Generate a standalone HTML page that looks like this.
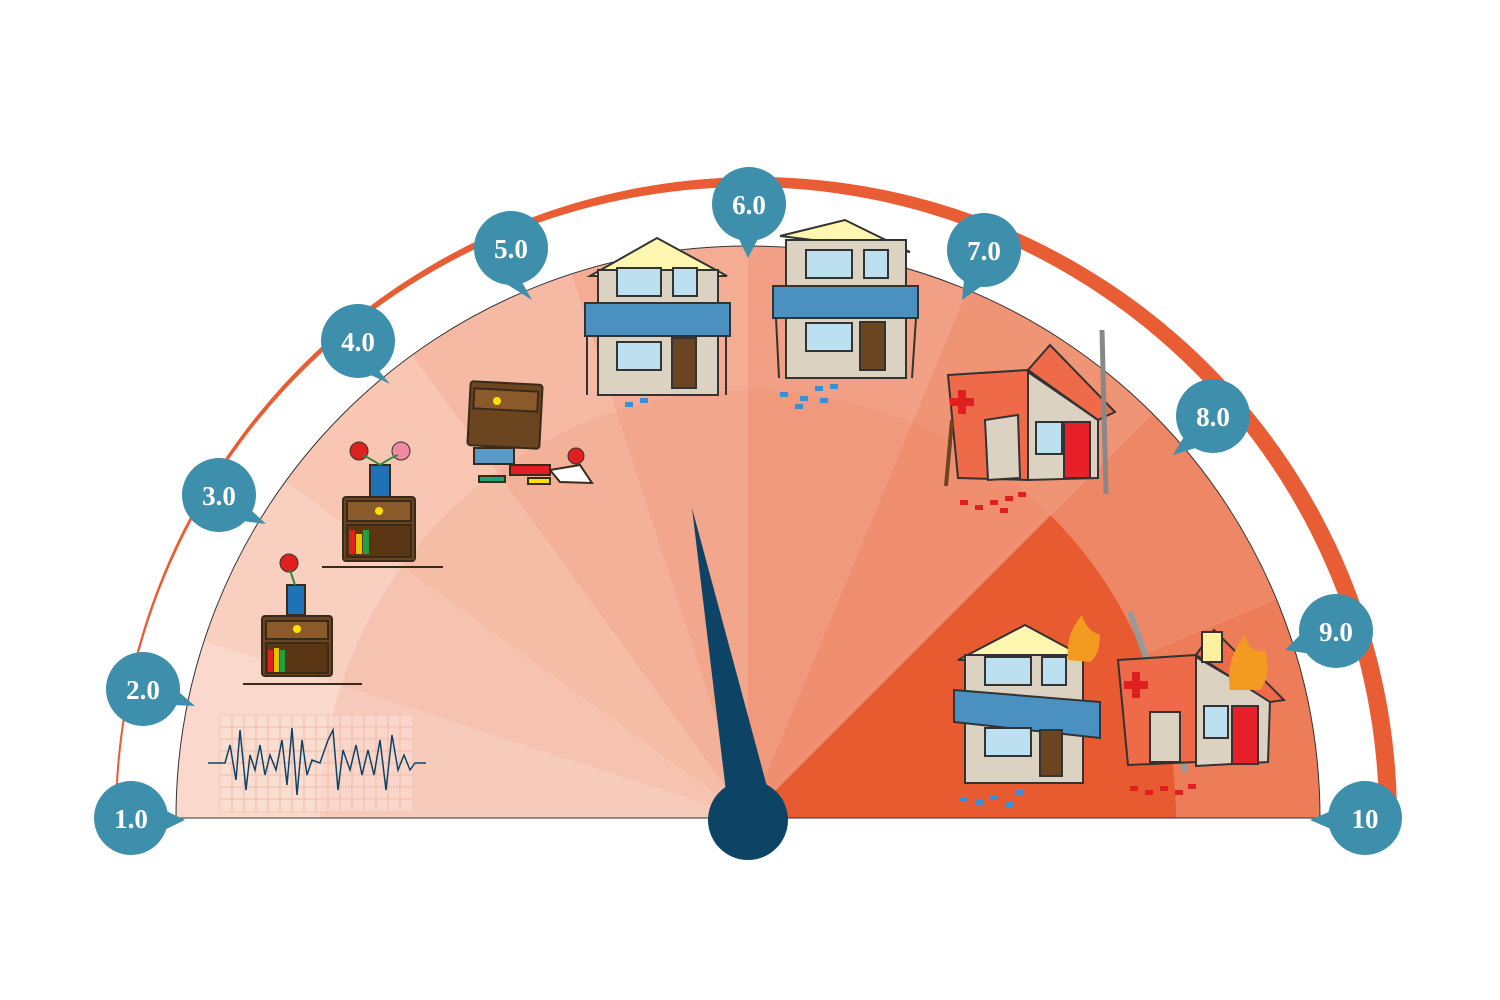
<!DOCTYPE html>
<html><head><meta charset="utf-8"><style>
html,body{margin:0;padding:0;background:#fff;}
svg{display:block;}
.b text{font-family:"Liberation Serif",serif;font-weight:bold;font-size:27px;fill:#fff;text-anchor:middle;}
</style></head><body>
<svg width="1500" height="1000" viewBox="0 0 1500 1000" xmlns="http://www.w3.org/2000/svg">
<rect width="1500" height="1000" fill="#fff"/>
<!-- outer band -->
<path d="M115,818 A641,641 0 0 1 1397,818 L1379,818 A631,631 0 0 0 117,818 Z" fill="#e85d33"/>
<!-- wedges -->
<g stroke="none">
<path d="M748,818 L176,818 A572,572 0 0 1 204,641.3 Z" fill="#fad8cb"/>
<path d="M748,818 L204,641.3 A572,572 0 0 1 285.3,481.8 Z" fill="#f9cfbf"/>
<path d="M748,818 L285.3,481.8 A572,572 0 0 1 411.8,355.2 Z" fill="#f8c6b3"/>
<path d="M748,818 L411.8,355.2 A572,572 0 0 1 571.2,274 Z" fill="#f6baa4"/>
<path d="M748,818 L571.2,274 A572,572 0 0 1 748,246 Z" fill="#f4ad94"/>
<path d="M748,818 L748,246 A572,572 0 0 1 966.9,289.5 Z" fill="#f2a085"/>
<path d="M748,818 L966.9,289.5 A572,572 0 0 1 1152.5,413.5 Z" fill="#f09476"/>
<path d="M748,818 L1152.5,413.5 A572,572 0 0 1 1276.5,599.1 Z" fill="#ee8766"/>
<path d="M748,818 L1276.5,599.1 A572,572 0 0 1 1320,818 Z" fill="#ed7c58"/>
</g>
<!-- inner darker rings -->
<path d="M748,818 L320,818 A428,428 0 0 1 748,390 Z" fill="#e8734e" opacity="0.12"/>
<path d="M748,818 L748,390 A428,428 0 0 1 1050.6,515.4 Z" fill="#e8734e" opacity="0.15"/>
<path d="M748,818 L1050.6,515.4 A428,428 0 0 1 1176,818 Z" fill="#e85a30"/>
<path d="M176,818 L1320,818" stroke="#333" stroke-width="1"/>
<path d="M176,818 A572,572 0 0 1 1320,818" fill="none" stroke="#333" stroke-width="1"/>
<!-- seismograph -->
<g stroke="#f4b9a8" stroke-width="1" fill="none">
<rect x="220" y="715" width="193" height="97" fill="#fbe2d8" opacity="0.5"/>
<path d="M220,727H413M220,739H413M220,751H413M220,763H413M220,775H413M220,787H413M220,799H413M232,715V812M244,715V812M256,715V812M268,715V812M280,715V812M292,715V812M304,715V812M316,715V812M328,715V812M340,715V812M352,715V812M364,715V812M376,715V812M388,715V812M400,715V812"/>
</g>
<polyline fill="none" stroke="#0d4466" stroke-width="1.5" points="208,763 225,763 230,745 236,780 240,730 246,790 250,755 255,770 260,745 265,775 270,755 276,770 282,740 287,785 292,728 297,795 302,740 307,775 312,760 320,763 328,740 333,730 338,790 343,750 350,770 356,745 362,775 368,750 374,775 380,740 386,790 392,735 398,770 404,755 410,770 415,763 426,763"/>
<!-- nightstand 3.0 -->
<g stroke="#3a2a1a" stroke-width="2">
<line x1="243" y1="684" x2="362" y2="684"/>
<rect x="262" y="616" width="70" height="60" rx="3" fill="#6b4420"/>
<rect x="266" y="621" width="62" height="18" fill="#8a5a2b"/>
<rect x="266" y="643" width="62" height="30" fill="#5a3615"/>
<rect x="287" y="585" width="18" height="30" fill="#1e73b8"/>
</g>
<circle cx="297" cy="629" r="4" fill="#ffe000"/>
<rect x="268" y="650" width="5" height="22" fill="#e02020"/><rect x="274" y="648" width="5" height="24" fill="#e6c300"/><rect x="280" y="650" width="5" height="22" fill="#22a040"/>
<circle cx="289" cy="563" r="9" fill="#e02020" stroke="#333"/>
<line x1="295" y1="585" x2="290" y2="570" stroke="#2a8a3a" stroke-width="2"/>
<!-- nightstand 4.0 -->
<g stroke="#3a2a1a" stroke-width="2">
<line x1="322" y1="567" x2="443" y2="567"/>
<rect x="343" y="497" width="72" height="64" rx="3" fill="#6b4420"/>
<rect x="347" y="501" width="64" height="20" fill="#8a5a2b"/>
<rect x="347" y="525" width="64" height="32" fill="#5a3615"/>
<rect x="370" y="465" width="20" height="32" fill="#1e73b8"/>
</g>
<circle cx="379" cy="511" r="4" fill="#ffe000"/>
<rect x="349" y="530" width="6" height="24" fill="#e02020"/><rect x="356" y="534" width="6" height="20" fill="#e6c300"/><rect x="363" y="530" width="6" height="24" fill="#22a040"/>
<circle cx="359" cy="451" r="9" fill="#e02020" stroke="#333"/><circle cx="401" cy="451" r="9" fill="#f08aa0" stroke="#333"/>
<path d="M380,465 Q370,458 362,455 M380,465 Q390,458 398,455" stroke="#2a8a3a" stroke-width="2" fill="none"/>
<!-- 5.0 fallen cabinet -->
<g stroke="#3a2a1a" stroke-width="2">
<rect x="469" y="383" width="72" height="64" rx="3" fill="#6b4420" transform="rotate(3 505 415)"/>
<rect x="473" y="390" width="64" height="20" fill="#8a5a2b" transform="rotate(3 505 415)"/>
<rect x="474" y="448" width="40" height="16" fill="#5a9ac8"/>
<rect x="510" y="465" width="40" height="10" fill="#e02020"/>
<polygon points="550,470 580,465 592,483 560,482" fill="#fff"/>
<rect x="479" y="476" width="26" height="6" fill="#22a080"/>
<rect x="528" y="478" width="22" height="6" fill="#ffe000"/>
</g>
<circle cx="576" cy="456" r="8" fill="#e02020" stroke="#333"/>
<circle cx="497" cy="401" r="4" fill="#ffe000"/>
<!-- House at 5.5 -->
<g stroke="#333" stroke-width="2">
<polygon points="590,276 657,238 727,276" fill="#fff7b0"/>
<rect x="598" y="270" width="120" height="125" fill="#dcd2c2"/>
<rect x="585" y="303" width="145" height="33" fill="#4a90c0"/>
<rect x="617" y="268" width="44" height="28" fill="#bde0f0"/><rect x="673" y="268" width="24" height="28" fill="#bde0f0"/>
<rect x="617" y="342" width="44" height="28" fill="#bde0f0"/>
<rect x="672" y="338" width="24" height="50" fill="#6b4420"/>
<line x1="587" y1="336" x2="587" y2="395"/><line x1="726" y1="336" x2="726" y2="395"/>
</g>
<!-- House at 6.5 -->
<g stroke="#333" stroke-width="2">
<polygon points="780,236 845,220 910,252" fill="#fff7b0"/>
<rect x="786" y="240" width="120" height="138" fill="#dcd2c2"/>
<rect x="806" y="250" width="46" height="28" fill="#bde0f0"/><rect x="864" y="250" width="24" height="28" fill="#bde0f0"/>
<rect x="773" y="286" width="145" height="32" fill="#4a90c0"/>
<rect x="806" y="323" width="46" height="28" fill="#bde0f0"/>
<rect x="860" y="322" width="25" height="48" fill="#6b4420"/>
<line x1="776" y1="318" x2="779" y2="378"/><line x1="916" y1="318" x2="912" y2="378"/>
</g>
<!-- House at 7.5 -->
<g stroke="#333" stroke-width="2">
<polygon points="948,375 1028,370 1028,480 958,478" fill="#ee6a48"/>
<polygon points="1028,372 1098,420 1098,478 1028,480" fill="#dcd2c2"/>
<polygon points="1028,370 1050,345 1115,412 1098,420" fill="#ee6a48"/>
<rect x="1036" y="422" width="26" height="32" fill="#bde0f0"/>
<rect x="1064" y="422" width="26" height="56" fill="#e8202a"/>
<polygon points="985,420 1018,415 1020,478 988,480" fill="#dcd2c2"/>
<line x1="1102" y1="330" x2="1106" y2="494" stroke-width="5" stroke="#888"/>
<line x1="952" y1="420" x2="946" y2="486" stroke="#6b4420" stroke-width="4"/>
</g>
<rect x="958" y="390" width="8" height="24" fill="#e02020"/><rect x="950" y="398" width="24" height="8" fill="#e02020"/>
<!-- Houses at 9.0 -->
<g stroke="#333" stroke-width="2">
<polygon points="958,660 1025,625 1090,660" fill="#fff7b0"/>
<rect x="965" y="655" width="118" height="128" fill="#dcd2c2"/>
<rect x="985" y="657" width="46" height="28" fill="#bde0f0"/><rect x="1042" y="657" width="24" height="28" fill="#bde0f0"/>
<polygon points="954,690 1100,702 1100,738 954,722" fill="#4a90c0"/>
<rect x="985" y="728" width="46" height="28" fill="#bde0f0"/>
<rect x="1040" y="730" width="22" height="46" fill="#6b4420"/>
<line x1="1130" y1="612" x2="1186" y2="772" stroke="#999" stroke-width="6"/>
<polygon points="1118,660 1196,655 1196,762 1128,765" fill="#ee6a48"/>
<polygon points="1196,657 1270,700 1268,762 1196,766" fill="#dcd2c2"/>
<polygon points="1196,655 1214,630 1284,700 1270,702" fill="#ee6a48"/>
<rect x="1204" y="706" width="24" height="32" fill="#bde0f0"/>
<rect x="1232" y="706" width="26" height="58" fill="#e8202a"/>
<rect x="1202" y="632" width="20" height="30" fill="#fff0a0"/>
<rect x="1150" y="712" width="30" height="50" fill="#dcd2c2"/>
</g>
<path d="M1230,690 Q1225,660 1245,635 Q1250,655 1265,650 Q1272,675 1260,690 Z" fill="#f39a20"/>
<path d="M1068,660 Q1065,635 1082,615 Q1086,630 1100,635 Q1100,655 1090,662 Z" fill="#f39a20"/>
<rect x="1132" y="672" width="8" height="26" fill="#e02020"/><rect x="1124" y="681" width="24" height="8" fill="#e02020"/>
<!-- debris -->
<g fill="#3a8fd0"><rect x="625" y="402" width="8" height="5"/><rect x="640" y="398" width="8" height="5"/><rect x="780" y="392" width="8" height="5"/><rect x="800" y="396" width="8" height="5"/><rect x="815" y="386" width="8" height="5"/><rect x="830" y="384" width="8" height="5"/><rect x="820" y="398" width="8" height="5"/><rect x="795" y="404" width="8" height="5"/><rect x="960" y="797" width="8" height="5"/><rect x="975" y="800" width="8" height="5"/><rect x="990" y="795" width="8" height="5"/><rect x="1005" y="802" width="8" height="5"/><rect x="1015" y="790" width="8" height="5"/></g>
<g fill="#e02020"><rect x="960" y="500" width="8" height="5"/><rect x="975" y="505" width="8" height="5"/><rect x="990" y="500" width="8" height="5"/><rect x="1005" y="496" width="8" height="5"/><rect x="1018" y="492" width="8" height="5"/><rect x="1000" y="508" width="8" height="5"/><rect x="1130" y="786" width="8" height="5"/><rect x="1145" y="790" width="8" height="5"/><rect x="1160" y="786" width="8" height="5"/><rect x="1175" y="790" width="8" height="5"/><rect x="1188" y="784" width="8" height="5"/></g>
<!-- needle -->
<polygon points="692,508 727,800 769,794" fill="#0d4466"/>
<circle cx="748" cy="820" r="40" fill="#0d4466"/>
<!-- bubbles -->
<g class="b" fill="#3e8fab">
<g><polygon points="160,808 185,820 160,832"/><circle cx="131" cy="818" r="37"/><text x="131" y="828">1.0</text></g>
<g><polygon points="165,680 195,706 172,705"/><circle cx="143" cy="689" r="37"/><text x="143" y="699">2.0</text></g>
<g><polygon points="240,500 266,524 235,520"/><circle cx="219" cy="495" r="37"/><text x="219" y="505">3.0</text></g>
<g><polygon points="370,360 390,384 360,370"/><circle cx="358" cy="341" r="37"/><text x="358" y="351">4.0</text></g>
<g><polygon points="515,270 532,300 500,280"/><circle cx="511" cy="248" r="37"/><text x="511" y="258">5.0</text></g>
<g><polygon points="737,235 748,258 760,235"/><circle cx="749" cy="204" r="37"/><text x="749" y="214">6.0</text></g>
<g><polygon points="965,270 962,300 990,280"/><circle cx="984" cy="250" r="37"/><text x="984" y="260">7.0</text></g>
<g><polygon points="1188,430 1173,455 1205,445"/><circle cx="1213" cy="416" r="37"/><text x="1213" y="426">8.0</text></g>
<g><polygon points="1305,630 1285,650 1318,655"/><circle cx="1336" cy="631" r="37"/><text x="1336" y="641">9.0</text></g>
<g><polygon points="1338,808 1310,820 1338,832"/><circle cx="1365" cy="818" r="37"/><text x="1365" y="828">10</text></g>
</g>
</svg>
</body></html>
